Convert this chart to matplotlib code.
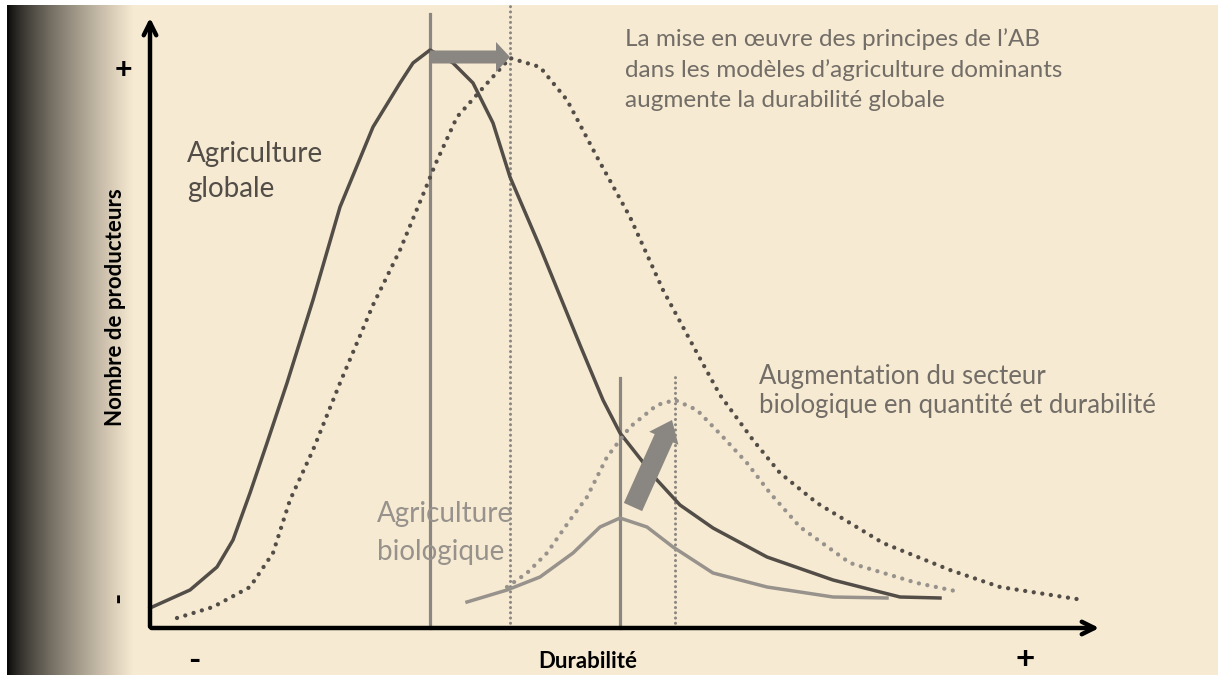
import matplotlib
matplotlib.use("Agg")
import matplotlib.pyplot as plt
import numpy as np
from matplotlib.patches import FancyArrow

plt.rcParams['font.family'] = ['Lato', 'DejaVu Sans']

# durabilité (x) vs nombre de producteurs (y)
glob_x = [0, 40, 67, 83, 100, 117, 137, 163, 190, 223, 250, 263, 280, 303, 323, 343,
          360, 390, 430, 453, 470, 507, 530, 563, 617, 683, 750, 790]
glob_y = [20, 38, 61, 88, 135, 185, 245, 328, 421, 501, 545, 565, 578, 565, 545, 505,
          451, 381, 283, 228, 195, 148, 123, 100, 71, 48, 31, 30]

glob_new_x = [27, 63, 100, 123, 140, 163, 190, 223, 250, 277, 285, 307, 340, 360, 390,
              417, 447, 480, 513, 547, 570, 603, 630, 667, 733, 800, 850, 933]
glob_new_y = [10, 21, 41, 75, 128, 178, 245, 323, 378, 443, 463, 511, 548, 570, 561,
              528, 471, 411, 338, 275, 233, 188, 155, 125, 85, 58, 41, 28]

bio_x = [317, 357, 390, 423, 450, 470, 497, 523, 563, 617, 683, 737]
bio_y = [26, 38, 51, 75, 101, 110, 101, 81, 55, 41, 31, 30]

bio_new_x = [357, 377, 397, 420, 437, 457, 480, 507, 525, 547, 573, 597, 620, 650,
             700, 767, 810]
bio_new_y = [41, 55, 75, 108, 131, 171, 201, 223, 228, 218, 191, 165, 135, 101,
             65, 45, 36]

# means (vertical markers): position, height
glob_mean, glob_mean_h = 280, 614
glob_new_mean, glob_new_mean_h = 360, 623
bio_mean, bio_mean_h = 470, 250
bio_new_mean, bio_new_mean_h = 525, 253

BG = (0.972, 0.918, 0.824)
DARK = '#524d47'
MID = '#8a8681'
LIGHT = '#97928c'
TXT = '#726d67'

fig = plt.figure(figsize=(12.18, 6.75), dpi=100)
ax = fig.add_axes([0, 0, 1, 1])
ax.set_xlim(-150, 1068)
ax.set_ylim(-47, 628)
ax.axis('off')

# background: beige with dark fade on the left edge
xs = np.arange(1218)
t = np.clip((xs - 8) / 125.0, 0, 1) ** 0.75
row = np.outer(1 - t, [0.04, 0.04, 0.04]) + np.outer(t, BG)
row[:7] = 1.0
img = np.repeat(row[None, :, :], 675, axis=0)
img[:5, :, :] = 1.0
ax.imshow(img, extent=(-150, 1068, -47, 628), aspect='auto', zorder=0)

# vertical reference lines
dot_v = (0, (0.01, 1.7))
ax.plot([glob_mean, glob_mean], [0, glob_mean_h], color=MID, lw=2.3, zorder=2)
ax.plot([glob_new_mean, glob_new_mean], [0, glob_new_mean_h], color=MID, lw=2.2,
        ls=dot_v, dash_capstyle='round', zorder=2)
ax.plot([bio_mean, bio_mean], [0, bio_mean_h], color=MID, lw=2.3, zorder=2)
ax.plot([bio_new_mean, bio_new_mean], [0, bio_new_mean_h], color=MID, lw=2.2,
        ls=dot_v, dash_capstyle='round', zorder=2)

# distributions
dot_c = (0, (0.01, 2.0))
ax.plot(glob_x, glob_y, color=DARK, lw=2.5, solid_joinstyle='round', zorder=3)
ax.plot(glob_new_x, glob_new_y, color=DARK, lw=3.1, ls=dot_c,
        dash_capstyle='round', zorder=3)
ax.plot(bio_x, bio_y, color=LIGHT, lw=2.5, solid_joinstyle='round', zorder=3)
ax.plot(bio_new_x, bio_new_y, color=LIGHT, lw=3.1, ls=dot_c,
        dash_capstyle='round', zorder=3)

# shift arrows
ax.add_patch(FancyArrow(glob_mean, 571, glob_new_mean - glob_mean, 0, width=13,
                        head_width=30, head_length=14, length_includes_head=True,
                        color=MID, lw=0, zorder=4))
ax.add_patch(FancyArrow(483, 121, 39, 87, width=20, head_width=32, head_length=20,
                        length_includes_head=True, color=MID, lw=0, zorder=4))

# axes with arrows
ax.annotate('', xy=(0, 613), xytext=(0, -1.5),
            arrowprops=dict(arrowstyle='->,head_length=0.9,head_width=0.45',
                            lw=3.2, color='black'), zorder=5)
ax.annotate('', xy=(952, 0), xytext=(-1.5, 0),
            arrowprops=dict(arrowstyle='->,head_length=0.9,head_width=0.45',
                            lw=3.2, color='black'), zorder=5)

# axis labels
ax.text(-27, 558, '+', fontsize=22, fontweight='bold', ha='center', va='center')
ax.text(-32, 31, '-', fontsize=22, fontweight='bold', ha='center', va='center',
        rotation=90)
ax.text(44, -32, '-', fontsize=24, fontweight='bold', ha='center', va='center')
ax.text(875, -31, '+', fontsize=24, fontweight='bold', ha='center', va='center')
ax.text(438, -34, 'Durabilité', fontsize=16, fontweight='bold', ha='center',
        va='center')
ax.text(-35, 321, 'Nombre de producteurs', fontsize=16, fontweight='bold',
        ha='center', va='center', rotation=90)

# annotations
ax.text(37, 466, 'Agriculture', fontsize=20, color=DARK, va='baseline')
ax.text(37, 431, 'globale', fontsize=20, color=DARK, va='baseline')
ax.text(227, 106, 'Agriculture', fontsize=20, color=LIGHT, va='baseline')
ax.text(227, 68, 'biologique', fontsize=20, color=LIGHT, va='baseline')
ax.text(475, 582, 'La mise en œuvre des principes de l’AB', fontsize=17.5,
        color=TXT, va='baseline')
ax.text(475, 551, 'dans les modèles d’agriculture dominants', fontsize=17.5,
        color=TXT, va='baseline')
ax.text(475, 521, 'augmente la durabilité globale', fontsize=17.5,
        color=TXT, va='baseline')
ax.text(609, 244, 'Augmentation du secteur', fontsize=18.5, color=TXT,
        va='baseline')
ax.text(609, 215, 'biologique en quantité et durabilité', fontsize=18.5,
        color=TXT, va='baseline')

fig.savefig('out.png', dpi=100, facecolor=BG)
